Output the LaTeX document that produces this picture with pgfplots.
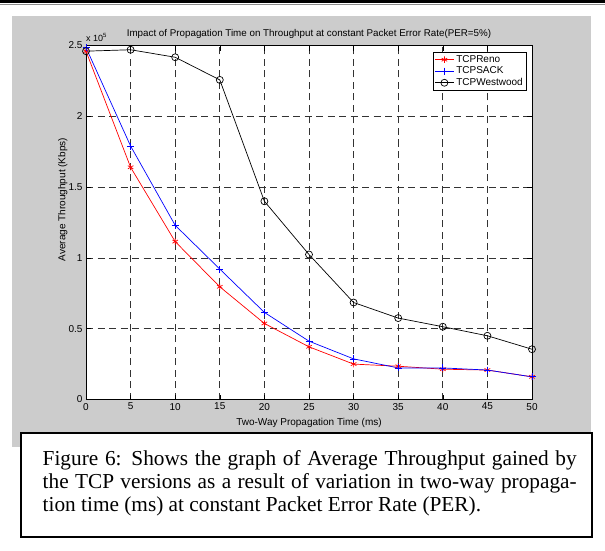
\documentclass[border=0pt]{standalone}
\usepackage{fontspec}
\setmainfont{Liberation Sans}
\newfontfamily\capfont{Liberation Serif}
\usepackage{pgfplots}
\pgfplotsset{compat=1.18}
\usetikzlibrary{backgrounds}
\definecolor{panel}{RGB}{204,204,204}

% throughput in kbps against two-way propagation time in ms
\pgfplotstableread{
t    reno    sack    westwood
0    246000  248500  246000
5    164000  179000  247000
10   111500  123000  241700
15    79600   92100  225700
20    53700   61500  140000
25    37200   41200  102400
30    25000   28700   68500
35    23500   22300   57500
40    21400   22300   51400
45    20800   20800   45000
50    16000   16000   35500
}\tputdata

\begin{document}
\begin{tikzpicture}
  \begin{axis}[
    at={(86pt,150.5pt)}, anchor=south west,
    width=446pt, height=354pt, scale only axis,
    xmin=0, xmax=50, ymin=0, ymax=250000,
    clip=false,
    xtick={0,5,...,50},
    ytick={0,50000,100000,150000,200000,250000},
    yticklabels={0,0.5,1,1.5,2,2.5},
    scaled y ticks=false,
    /pgf/number format/assume math mode=true,
    tick label style={font=\fontsize{10}{12}\selectfont},
    axis background/.style={fill=white},
    axis line style={black, line width=0.9pt},
    tick align=inside, tick pos=both,
    major tick length=5pt,
    tick style={black, line width=0.6pt},
    grid=major,
    grid style={black!80, line width=0.7pt, dash pattern=on 7pt off 4.5pt},
    title={Impact of Propagation Time on Throughput at constant Packet Error Rate(PER=5\%)},
    title style={at={(rel axis cs:0.5,1)}, anchor=south, yshift=-3pt,
      font=\fontsize{9.8}{11}\selectfont},
    xlabel={Two-Way Propagation Time (ms)},
    ylabel={Average Throughput (Kbps)},
    label style={font=\fontsize{10}{12}\selectfont},
    xlabel style={yshift=-1pt},
    ylabel style={at={(rel axis cs:-0.052,0.565)}, anchor=center},
    legend style={at={(rel axis cs:0.988,0.983)}, anchor=north east,
      draw=black, line width=0.8pt, fill=white,
      font=\fontsize{10}{12}\selectfont,
      inner sep=1.5pt, row sep=-1pt,
      nodes={inner sep=2pt}},
    legend cell align=left,
    legend image code/.code={
      \draw[mark repeat=2, mark phase=2, #1]
        plot coordinates {(0pt,0pt) (9.5pt,0pt) (19pt,0pt)};},
  ]
    \addplot[red, line width=0.7pt, mark=asterisk, mark size=3.2pt,
      mark options={line width=0.7pt}] table[x=t, y=reno] {\tputdata};
    \addplot[blue, line width=0.7pt, mark=+, mark size=3.5pt,
      mark options={line width=0.7pt}] table[x=t, y=sack] {\tputdata};
    \addplot[black, line width=0.7pt, mark=o, mark size=3.5pt,
      mark options={line width=0.7pt}] table[x=t, y=westwood] {\tputdata};
    \legend{TCPReno, TCPSACK, TCPWestwood}
    \node[anchor=south west, inner sep=0pt, yshift=4pt,
      font=\fontsize{9}{10}\selectfont] at (rel axis cs:0,1) {x 10\textsuperscript{5}};
  \end{axis}

  \begin{scope}[on background layer, x=1pt, y=1pt]
    % page rule at the top
    \fill[black] (0,547) rectangle (605,550);
    \draw[black!45, line width=0.8pt] (0,545.5) -- (605,545.5);
    % matlab figure panel
    \fill[panel] (12,103) rectangle (591,534);
  \end{scope}

  \begin{scope}[x=1pt, y=1pt]
    % caption box
    \draw[black, line width=2pt, fill=white] (20.7,13) rectangle (592,117);
    \begin{scope}[every node/.style={anchor=base west, inner sep=0pt,
        font=\capfont\fontsize{21.3}{23}\selectfont}]
      \node at (42.5,85) {\makebox[534pt][s]{Figure 6: Shows the graph of Average Throughput gained by}};
      \node at (42.5,62) {\makebox[534pt][s]{the TCP versions as a result of variation in two-way propaga-}};
      \node at (42.5,38.5) {tion time (ms) at constant Packet Error Rate (PER).};
    \end{scope}
    \pgfresetboundingbox
    \useasboundingbox (0,0) rectangle (605,550);
  \end{scope}
\end{tikzpicture}
\end{document}
